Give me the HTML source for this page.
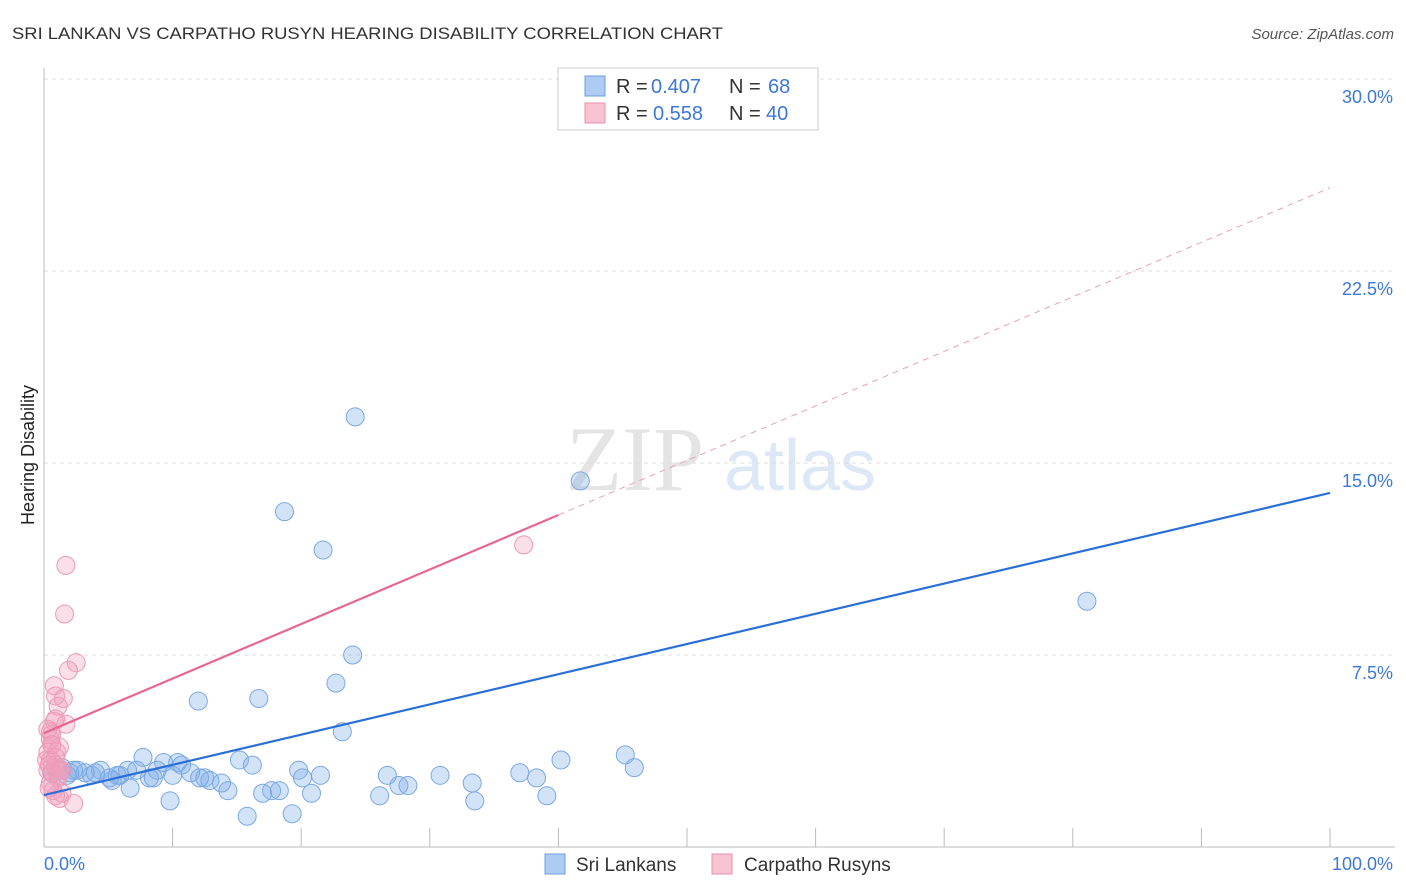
<!DOCTYPE html>
<html><head><meta charset="utf-8"><style>
body{margin:0;background:#fff;font-family:"Liberation Sans",sans-serif;}
svg{display:block}
</style></head><body>
<svg id="chart" width="1406" height="892">
<text x="12" y="39" font-size="17" fill="#333" textLength="711" lengthAdjust="spacingAndGlyphs">SRI LANKAN VS CARPATHO RUSYN HEARING DISABILITY CORRELATION CHART</text>
<text x="1394" y="39" font-size="15" fill="#555" font-style="italic" text-anchor="end">Source: ZipAtlas.com</text>
<text x="34" y="455" font-size="18" fill="#222" text-anchor="middle" transform="rotate(-90 34 455)">Hearing Disability</text>
<g><text x="635" y="490" font-size="92" fill="#e4e4e4" font-family="Liberation Serif,serif" text-anchor="middle">ZIP</text><text x="800" y="490" font-size="72" fill="#dde8f6" text-anchor="middle">atlas</text></g>
<g id="grid"></g>
<g id="marks"></g>
<g>
<rect x="558" y="68" width="260" height="62" fill="#fff" stroke="#ccc"/>
<rect x="585" y="76" width="20" height="20" fill="#aecbf2" stroke="#6a9ee0"/>
<g font-size="20">
<text x="616" y="93" fill="#333">R =</text><text x="651" y="93" fill="#3d78d8">0.407</text><text x="729" y="93" fill="#333">N =</text><text x="768" y="93" fill="#3d78d8">68</text></g>
<rect x="585" y="103" width="20" height="20" fill="#f8c4d4" stroke="#e890ad"/>
<g font-size="20">
<text x="616" y="120" fill="#333">R =</text><text x="653" y="120" fill="#3d78d8">0.558</text><text x="729" y="120" fill="#333">N =</text><text x="766" y="120" fill="#3d78d8">40</text></g>
</g>
<g>
<rect x="545" y="854" width="20" height="20" fill="#aecbf2" stroke="#6a9ee0"/>
<text x="576" y="871" font-size="19" fill="#333">Sri Lankans</text>
<rect x="712" y="854" width="20" height="20" fill="#f8c4d4" stroke="#e890ad"/>
<text x="744" y="871" font-size="19" fill="#333">Carpatho Rusyns</text>
</g>
</svg>
<script>
const yTicks=[7.5,15,22.5,30];
const yTickLabels=["7.5%","15.0%","22.5%","30.0%"];
const xTickValues=[10,20,30,40,50,60,70,80,90,100];
const blueX=[24.2,18.7,21.7,41.7,52.3,81.1,24.0,22.7,16.7,12.0,23.2,45.2,45.9,40.2,15.2,16.2,19.8,21.5,26.7,30.8,37.0,38.3,33.3,27.6,28.3,20.1,20.8,17.7,17.0,18.3,26.1,33.5,39.1,9.8,14.3,15.8,19.3,7.7,9.3,10.4,10.7,11.4,10.0,8.8,6.5,5.7,7.2,8.2,8.5,12.5,12.9,13.8,6.7,5.3,4.4,3.7,3.2,2.6,2.0,1.4,1.0,0.6,1.8,2.3,5.9,5.1,4.0,12.1];
const blueY=[16.8,13.1,11.6,14.3,29.8,9.6,7.5,6.4,5.8,5.7,4.5,3.6,3.1,3.4,3.4,3.2,3.0,2.8,2.8,2.8,2.9,2.7,2.5,2.4,2.4,2.7,2.1,2.2,2.1,2.2,2.0,1.8,2.0,1.8,2.2,1.2,1.3,3.5,3.3,3.3,3.2,2.9,2.8,3.0,3.0,2.8,3.0,2.7,2.7,2.7,2.6,2.5,2.3,2.6,3.0,2.8,2.9,3.0,2.9,3.1,3.0,2.9,2.8,3.0,2.8,2.7,2.9,2.7];
const pinkX=[1.7,1.6,2.5,1.9,0.8,0.9,1.5,1.1,0.9,1.7,0.8,0.5,1.2,0.6,0.3,1.0,0.5,0.9,0.3,0.7,1.1,0.5,1.4,1.2,2.3,0.9,0.5,0.2,0.9,1.2,37.3,0.6,0.3,0.9,0.4,0.7,1.1,0.4,0.6,1.4];
const pinkY=[11.0,9.1,7.2,6.9,6.3,5.9,5.8,5.5,5.0,4.8,4.9,4.5,3.9,4.0,3.7,3.7,3.4,3.2,3.0,2.9,2.7,2.5,2.1,1.9,1.7,2.0,4.2,3.4,3.1,3.0,11.8,4.4,4.6,3.5,2.3,2.2,2.8,3.2,4.0,3.0];
const blueTrend=[2.03,13.83];
const pinkTrend=[4.45,25.75];
const pinkSolidEnd=40;

const NS="http://www.w3.org/2000/svg";
const X0=44,X1=1330,Y0=847,PXPER=25.6;
const sx=v=>X0+(X1-X0)*v/100;
const sy=v=>Y0-v*PXPER;
function mk(tag,attrs,parent){const e=document.createElementNS(NS,tag);for(const k in attrs)e.setAttribute(k,attrs[k]);parent.appendChild(e);return e;}
const grid=document.getElementById('grid'),marks=document.getElementById('marks');
yTicks.forEach((t,i)=>{
 const l=mk('line',{x1:X0,x2:1395,y1:sy(t),y2:sy(t),stroke:'#ddd','stroke-dasharray':'4,4'},grid);
 
 
 const tx=mk('text',{x:1393,y:sy(t)+24,'font-size':18,fill:'#3d78d8','text-anchor':'end'},grid);
 tx.textContent=yTickLabels[i];
 
 
});
const ax=mk('line',{x1:X0,x2:1395,y1:Y0,y2:Y0,stroke:'#bbb'},grid);


const ay=mk('line',{x1:X0,x2:X0,y1:68,y2:Y0,stroke:'#bbb'},grid);


xTickValues.forEach(t=>{
 const l=mk('line',{x1:sx(t),x2:sx(t),y1:828,y2:Y0,stroke:'#bbb'},grid);
 
 
});
const xl0=mk('text',{x:44,y:870,'font-size':18,fill:'#3d78d8'},grid);xl0.textContent='0.0%';


const xl1=mk('text',{x:1393,y:870,'font-size':18,fill:'#3d78d8','text-anchor':'end'},grid);xl1.textContent='100.0%';



blueX.forEach((v,i)=>{
 const c=mk('circle',{cx:sx(v),cy:sy(blueY[i]),r:9,fill:'rgba(130,175,232,0.35)',stroke:'#7aa8e4','stroke-width':1},marks);
 
 
});
pinkX.forEach((v,i)=>{
 const c=mk('circle',{cx:sx(v),cy:sy(pinkY[i]),r:9,fill:'rgba(242,160,188,0.35)',stroke:'#eb9ab5','stroke-width':1},marks);
 
 
});
const bl=mk('line',{x1:sx(0),y1:sy(blueTrend[0]),x2:sx(100),y2:sy(blueTrend[1]),stroke:'#2a6fd8','stroke-width':2.2},marks);


const pAt=x=>pinkTrend[0]+(pinkTrend[1]-pinkTrend[0])*x/100;
const pl=mk('line',{x1:sx(0),y1:sy(pAt(0)),x2:sx(pinkSolidEnd),y2:sy(pAt(pinkSolidEnd)),stroke:'#e8668f','stroke-width':2.2},marks);


const pd=mk('line',{x1:sx(pinkSolidEnd),y1:sy(pAt(pinkSolidEnd)),x2:sx(100),y2:sy(pAt(100)),stroke:'#e8a0b6','stroke-width':1,'stroke-dasharray':'6,5'},marks);


</script>
</body></html>
